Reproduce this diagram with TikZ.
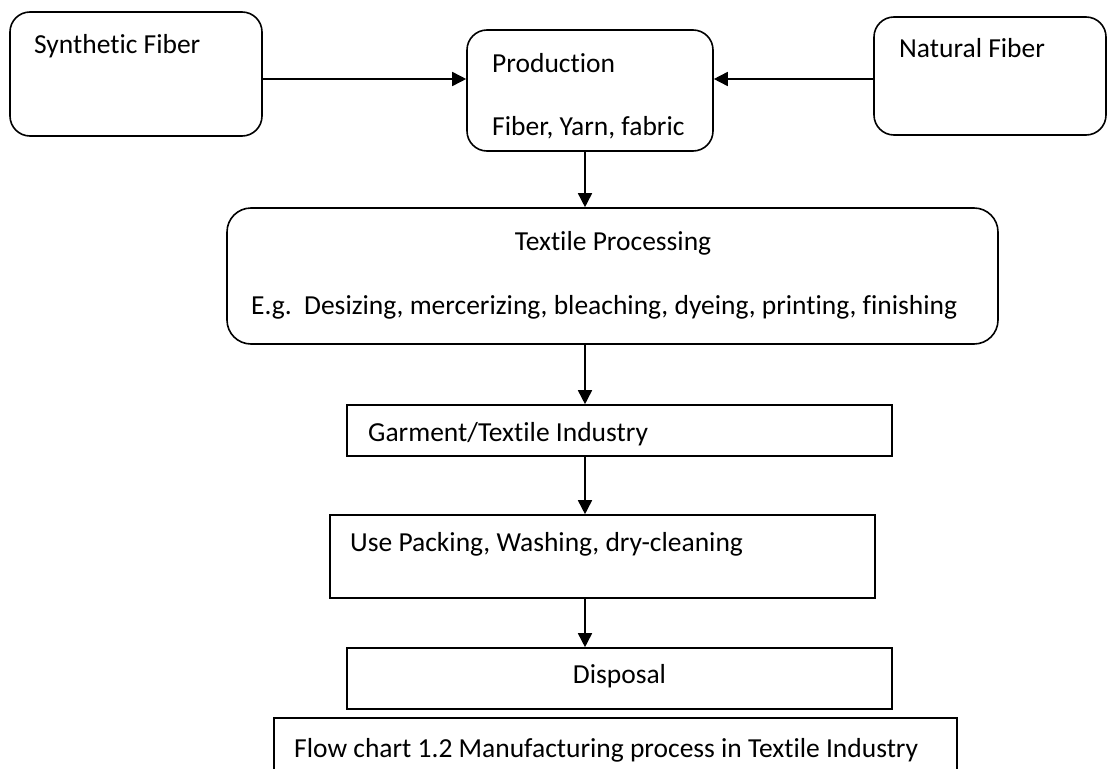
\documentclass[tikz,border=0pt]{standalone}
\usepackage{fontspec}
\setmainfont{Carlito}[Ligatures=NoCommon]
\usetikzlibrary{arrows.meta}
\begin{document}
\begin{tikzpicture}[x=1pt,y=-1pt,
  every node/.style={inner sep=0pt},
  rbox/.style={draw, line width=1.6pt, rounded corners=20pt, minimum width=#1},
  sbox/.style={draw, line width=1.6pt, minimum width=#1},
  lbl/.style={anchor=base west, font=\fontsize{27.5pt}{33pt}\selectfont},
  clbl/.style={anchor=base, font=\fontsize{27.5pt}{33pt}\selectfont},
  arr/.style={line width=1.6pt, -{Triangle[length=14pt,width=14pt]}}]
\useasboundingbox (0,0) rectangle (1107,768);
\clip (0,0) rectangle (1107,768);

% boxes
\node[rbox=252pt, minimum height=124pt] (syn) at (136,74) {};
\node[rbox=246pt, minimum height=121pt] (prod) at (590,90.5) {};
\node[rbox=232pt, minimum height=118pt] (nat) at (990,76) {};
\node[rbox=771pt, minimum height=136pt, rounded corners=24pt] (tex) at (612.5,276) {};
\node[sbox=545pt, minimum height=51pt] (gar) at (619.5,430.5) {};
\node[sbox=545pt, minimum height=83pt] (use) at (602.5,556.5) {};
\node[sbox=545pt, minimum height=61pt] (dis) at (619.5,678.5) {};
\node[sbox=683pt, minimum height=80pt] (cap) at (615.5,758) {};

% texts
\node[lbl] (tsyn) at (34,53) {Synthetic Fiber};
\node[lbl] (tprod1) at (492,72) {Production};
\node[lbl] (tprod2) at (492,135) {Fiber, Yarn, fabric};
\node[lbl] (tnat) at (899,58) {Natural Fiber};
\node[clbl] (ttex1) at (613,250) {Textile Processing};
\node[lbl] (ttex2) at (251,314) {E.g.\ \ Desizing, mercerizing, bleaching, dyeing, printing, finishing};
\node[lbl] (tgar) at (368,441) {Garment/Textile Industry};
\node[lbl] (tuse) at (350,551) {Use Packing, Washing, dry-cleaning};
\node[clbl] (tdis) at (619.5,683) {Disposal};
\node[lbl] (tcap) at (294,757) {Flow chart 1.2 Manufacturing process in Textile Industry};

% connectors
\coordinate (a1) at ([yshift=-5pt]syn.east);
\coordinate (a2) at ([yshift=-3pt]nat.west);
\draw[arr] (a1) -- (a1 -| prod.west);
\draw[arr] (a2) -- (a2 -| prod.east);
\coordinate (v) at (585,0);
\draw[arr] (prod.south -| v) -- (tex.north -| v);
\draw[arr] (tex.south -| v) -- (gar.north -| v);
\draw[arr] (gar.south -| v) -- (use.north -| v);
\draw[arr] (use.south -| v) -- (dis.north -| v);
\end{tikzpicture}
\end{document}
